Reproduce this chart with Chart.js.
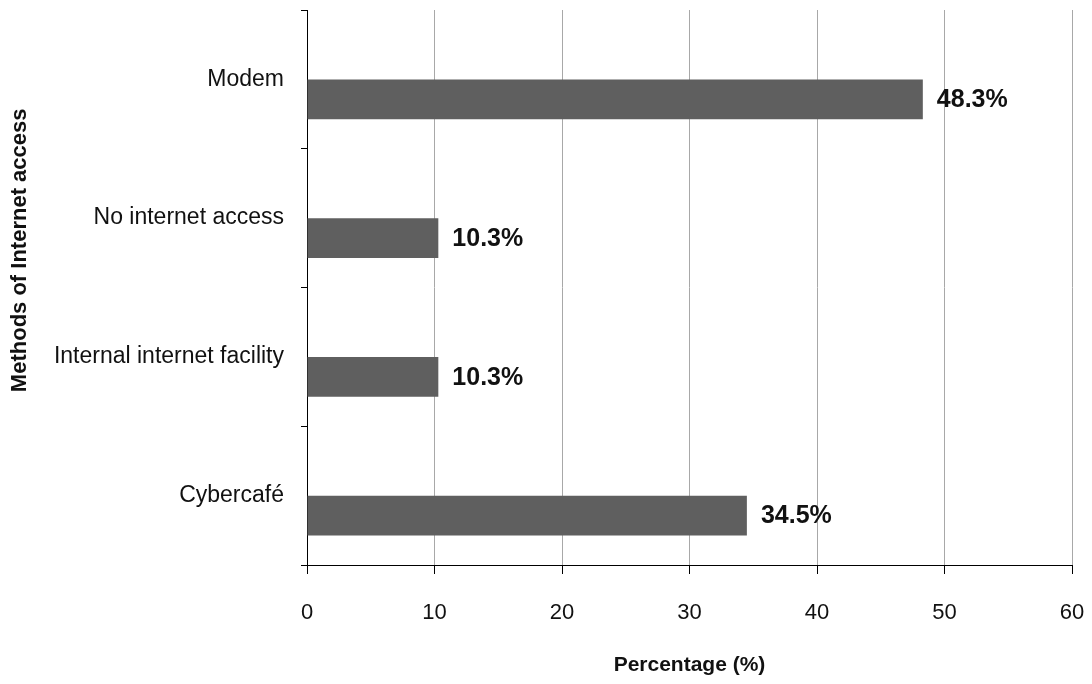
<!DOCTYPE html>
<html>
<head>
<meta charset="utf-8">
<script src="https://cdn.jsdelivr.net/npm/chart.js@4.4.1/dist/chart.umd.min.js"></script>
<style>
html,body{margin:0;padding:0;background:#fff;}
#wrap{width:1092px;height:684px;position:relative;}
</style>
</head>
<body>
<div id="wrap"><canvas id="c" width="1092" height="684"></canvas></div>
<script>
const categories = ["Modem", "No internet access", "Internal internet facility", "Cybercafé"];
const percentages = [48.3, 10.3, 10.3, 34.5];
const spacerSeries = [null, null, null, null];
const xTicks = [0, 10, 20, 30, 40, 50, 60];
const xTitle = "Percentage (%)";
const yTitle = "Methods of Internet access";

const FONT = "'Liberation Sans', Arial, sans-serif";
const TEXT = "#111";

const labelsPlugin = {
  id: 'valueLabels',
  afterDatasetsDraw(chart) {
    const ctx = chart.ctx;
    const meta = chart.getDatasetMeta(1);
    ctx.save();
    ctx.font = "bold 25px " + FONT;
    ctx.fillStyle = TEXT;
    ctx.textAlign = 'left';
    ctx.textBaseline = 'middle';
    meta.data.forEach((el, i) => {
      ctx.fillText(percentages[i].toFixed(1) + '%', el.x + 14, el.y + 1);
    });
    ctx.restore();
  }
};

const titlesPlugin = {
  id: 'axisTitles',
  afterDraw(chart) {
    const ctx = chart.ctx;
    const a = chart.chartArea;
    ctx.save();
    ctx.fillStyle = TEXT;
    ctx.font = "bold 21px " + FONT;
    ctx.textAlign = 'center';
    ctx.textBaseline = 'middle';
    ctx.fillText(xTitle, (a.left + a.right) / 2, 665);
    ctx.translate(20, a.top + (a.bottom - a.top) * 0.433);
    ctx.rotate(-Math.PI / 2);
    ctx.font = "bold 22px " + FONT;
    ctx.fillText(yTitle, 0, 0);
    ctx.restore();
  }
};

new Chart(document.getElementById('c'), {
  type: 'bar',
  data: {
    labels: categories,
    datasets: [
      { label: 'spacer', data: spacerSeries, backgroundColor: 'rgba(0,0,0,0)' },
      { label: 'Percentage', data: percentages, backgroundColor: '#5f5f5f', borderWidth: 0 }
    ]
  },
  options: {
    indexAxis: 'y',
    responsive: false,
    animation: false,
    devicePixelRatio: 1,
    categoryPercentage: 0.576,
    barPercentage: 1.0,
    layout: { padding: { top: 10, right: 20, left: 0, bottom: 0 } },
    plugins: { legend: { display: false }, tooltip: { enabled: false } },
    scales: {
      x: {
        type: 'linear',
        min: 0, max: 60,
        afterBuildTicks(scale) { scale.ticks = xTicks.map(v => ({ value: v })); },
        afterFit(scale) { scale.height = 119; scale.paddingLeft = 0; scale.paddingRight = 0; },
        grid: { color: '#a8a8a8', lineWidth: 1, tickColor: '#000', tickLength: 9, drawTicks: true },
        border: { color: '#000', width: 1 },
        ticks: { font: { family: FONT, size: 22 }, color: TEXT, padding: 26, maxRotation: 0 }
      },
      y: {
        type: 'category',
        afterFit(scale) { scale.width = 307; scale.paddingTop = 0; scale.paddingBottom = 0; },
        grid: { drawOnChartArea: false, drawTicks: true, tickLength: 6, tickColor: '#000', color: '#000', offset: true },
        border: { color: '#000', width: 1 },
        ticks: { font: { family: FONT, size: 23 }, color: TEXT, padding: 17 }
      }
    }
  },
  plugins: [labelsPlugin, titlesPlugin]
});
</script>
</body>
</html>
